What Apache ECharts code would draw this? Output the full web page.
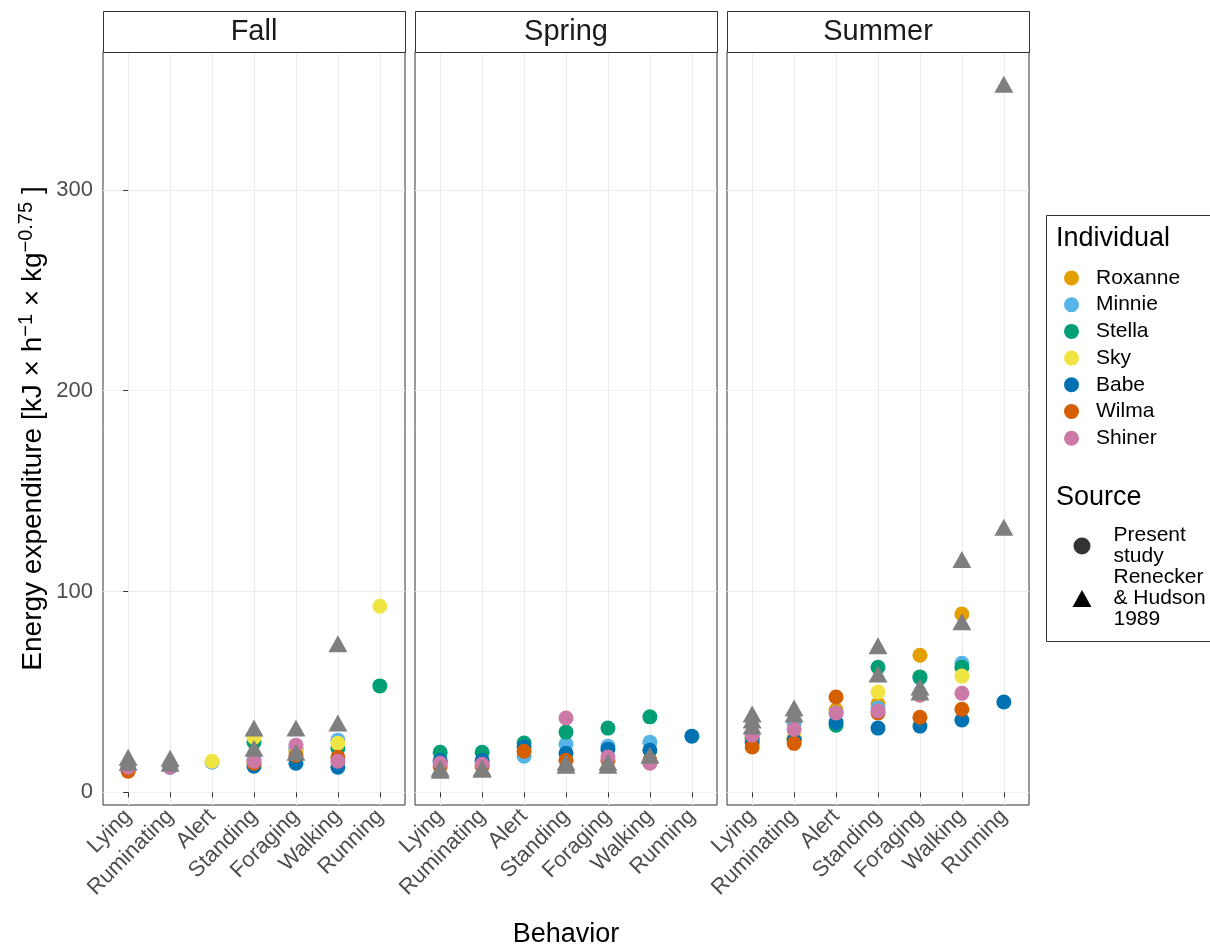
<!DOCTYPE html>
<html><head><meta charset="utf-8">
<script src="https://cdn.jsdelivr.net/npm/echarts@6/dist/echarts.min.js"></script>
<style>html,body{margin:0;padding:0;background:#fff}#c{width:1210px;height:947px}</style>
</head><body><div id="c"></div>
<script>
const categories = ['Lying','Ruminating','Alert','Standing','Foraging','Walking','Running'];
const seasons = ['Fall','Spring','Summer'];
const individuals = ['Roxanne','Minnie','Stella','Sky','Babe','Wilma','Shiner'];
const individualColors = ['#E69F00','#56B4E9','#009E73','#F0E442','#0072B2','#D55E00','#CC79A7'];
const yTickValues = [0,100,200,300];

// Present study (values per behavior, null = not measured)
const roxanneFall   = [null, null, null, null, null, null, null];
const minnieFall    = [13.5, 13.5, 15, 16.5, 22, 26, null];
const stellaFall    = [13, 13, null, 25, 21, 22, 53];
const skyFall       = [13, 13, 15.5, 27.5, 21, 24.5, 92.7];
const babeFall      = [12, 12.5, null, 13, 14.5, 12.5, null];
const wilmaFall     = [10.5, 13, null, 14.5, 18.5, 17.5, null];
const shinerFall    = [12.5, 12.5, null, 15.5, 23.5, 15.5, null];

const roxanneSpring = [null, null, null, null, null, 14.8, null];
const minnieSpring  = [15, 15, 18, 24, 23, 25, null];
const stellaSpring  = [20, 20, 24.6, 30, 32, 37.6, null];
const skySpring     = [null, null, null, null, null, null, null];
const babeSpring    = [16, 16, 22.6, 19.5, 21.5, 21, 28];
const wilmaSpring   = [13, 13, 20.5, 16, 16, 16, null];
const shinerSpring  = [14.5, 14, null, 37, 17.6, 14.5, null];

const roxanneSummer = [27, 27, 41, 44, 68.3, 88.8, null];
const minnieSummer  = [28, 34.4, 39.5, 42, 57, 64.3, null];
const stellaSummer  = [27, 27, 33.4, 62.3, 57.5, 62.3, null];
const skySummer     = [28, 28.5, null, 50, null, 57.9, null];
const babeSummer    = [25, 26, 34.8, 32, 33, 36, 45];
const wilmaSummer   = [22.6, 24.4, 47.5, 39.6, 37.4, 41.4, null];
const shinerSummer  = [28.5, 31.4, 39.5, 40.5, 48.4, 49.3, null];

// Renecker & Hudson 1989
const rhFallA   = [17.5, 17, null, 32, 32, 74, null];
const rhFallB   = [15, 14.5, null, 22, 20, 34.5, null];
const rhSpringA = [12, 12, null, 15, 15, 18.5, null];
const rhSpringB = [11, 11.5, null, 13.5, 13.5, null, null];
const rhSummerA = [39, 42, null, 73, 52.5, 116, 352.6];
const rhSummerB = [36, 39, null, 59, 50, 85, 132];
const rhSummerC = [33, null, null, null, null, null, null];

const presentTable = {
  Fall:   [roxanneFall, minnieFall, stellaFall, skyFall, babeFall, wilmaFall, shinerFall],
  Spring: [roxanneSpring, minnieSpring, stellaSpring, skySpring, babeSpring, wilmaSpring, shinerSpring],
  Summer: [roxanneSummer, minnieSummer, stellaSummer, skySummer, babeSummer, wilmaSummer, shinerSummer]
};
const rhTable = {
  Fall: [rhFallA, rhFallB],
  Spring: [rhSpringA, rhSpringB],
  Summer: [rhSummerA, rhSummerB, rhSummerC]
};

const FONT = 'Liberation Sans, Arial, sans-serif';
const gridLefts = [103, 415, 727];
const gridTop = 52, gridW = 302, gridH = 753;

function toPoints(arr) {
  const out = [];
  arr.forEach((v, k) => { if (v != null) out.push([categories.indexOf(categories[k]), v]); });
  return out;
}

const grids = [], xAxes = [], yAxes = [], series = [], graphics = [];
const catIdx = categories.map((c, i) => i);

seasons.forEach((s, si) => {
  grids.push({left: gridLefts[si], top: gridTop, width: gridW, height: gridH,
    show: true, borderColor: '#333333', borderWidth: 1, backgroundColor: '#fff', outerBoundsMode: 'none'});
  xAxes.push({
    type: 'value', gridIndex: si, min: -0.6, max: 6.6, splitNumber: 7,
    axisLine: {show: false},
    axisTick: {show: true, customValues: catIdx, length: 5, lineStyle: {color: '#333333'}},
    axisLabel: {customValues: catIdx, rotate: 45, fontSize: 22, color: '#4D4D4D', fontFamily: FONT, margin: 8,
      formatter: v => (Number.isInteger(v) && categories[v]) ? categories[v] : ''},
    splitLine: {show: true, lineStyle: {color: '#EBEBEB', width: 1}},
    name: si === 1 ? 'Behavior' : '', nameLocation: 'middle', nameGap: 116,
    nameTextStyle: {fontSize: 27, color: '#000', fontFamily: FONT}
  });
  yAxes.push({
    type: 'value', gridIndex: si, min: -6.3, max: 368.7, splitNumber: 8,
    axisLine: {show: false},
    axisTick: {show: si === 0, customValues: yTickValues, length: 5, lineStyle: {color: '#333333'}},
    axisLabel: {show: si === 0, customValues: yTickValues, fontSize: 22, color: '#4D4D4D', fontFamily: FONT, margin: 10,
      formatter: v => (v % 100 === 0 ? String(v) : '')},
    splitLine: {show: true, lineStyle: {color: ['#F2F2F2', '#EBEBEB'], width: 1}},
    name: si === 0 ? '{a|Energy expenditure [kJ × h}{s|−1}{a| × kg}{s|−0.75}{a| ]}' : '',
    nameLocation: 'middle', nameRotate: 90, nameGap: 52,
    nameTextStyle: {rich: {
      a: {fontSize: 28, color: '#000', fontFamily: FONT, lineHeight: 35},
      s: {fontSize: 20, color: '#000', fontFamily: FONT, lineHeight: 20, verticalAlign: 'top'}
    }}
  });
  presentTable[s].forEach((arr, ii) => {
    series.push({type: 'scatter', name: individuals[ii], xAxisIndex: si, yAxisIndex: si,
      symbol: 'circle', symbolSize: 15, itemStyle: {color: individualColors[ii], opacity: 1},
      data: toPoints(arr), z: 2});
  });
  rhTable[s].forEach(arr => {
    series.push({type: 'scatter', name: 'Renecker & Hudson 1989', xAxisIndex: si, yAxisIndex: si,
      symbol: 'triangle', symbolSize: [19, 17], itemStyle: {color: '#7F7F7F', opacity: 1},
      data: toPoints(arr), z: 3});
  });
  // strip
  graphics.push({type: 'rect', shape: {x: gridLefts[si] + 0.5, y: 11.5, width: gridW, height: gridTop - 11},
    style: {fill: '#fff', stroke: '#333333', lineWidth: 1}, z: 10});
  graphics.push({type: 'text', style: {text: s, x: gridLefts[si] + gridW / 2, y: 32, align: 'center', verticalAlign: 'middle',
    font: '29px ' + FONT, fill: '#1A1A1A'}, z: 11});
});

series.push({type: 'scatter', name: 'Present study', xAxisIndex: 0, yAxisIndex: 0, symbol: 'circle',
  itemStyle: {color: '#000'}, data: []});

// legend box & titles
graphics.push({type: 'rect', shape: {x: 1046.5, y: 215.5, width: 170, height: 426},
  style: {fill: 'none', stroke: '#333333', lineWidth: 1}, z: 0});
graphics.push({type: 'text', style: {text: 'Individual', x: 1056, y: 239, align: 'left', verticalAlign: 'middle',
  font: '27px ' + FONT, fill: '#000'}});
graphics.push({type: 'text', style: {text: 'Source', x: 1056, y: 498, align: 'left', verticalAlign: 'middle',
  font: '27px ' + FONT, fill: '#000'}});

const option = {
  animation: false,
  backgroundColor: '#fff',
  grid: grids, xAxis: xAxes, yAxis: yAxes, series: series,
  legend: [
    {data: individuals, orient: 'vertical', left: 1059, top: 262.5, itemWidth: 15, itemHeight: 15, itemGap: 5.7,
      icon: 'circle', selectedMode: false,
      textStyle: {fontSize: 21, lineHeight: 21, color: '#000', fontFamily: FONT, padding: [0, 0, 0, 12]}},
    {data: [{name: 'Present study', icon: 'circle', itemStyle: {color: '#000'}},
            {name: 'Renecker & Hudson 1989', icon: 'triangle', itemStyle: {color: '#000'}}],
      orient: 'vertical', left: 1067.5, top: 520, itemWidth: 19, itemHeight: 17, itemGap: 0, selectedMode: false,
      formatter: n => n === 'Present study' ? 'Present\nstudy' : 'Renecker\n& Hudson\n1989',
      textStyle: {fontSize: 21, lineHeight: 21, color: '#000', fontFamily: FONT, padding: [0, 0, 0, 17]}}
  ],
  graphic: graphics
};
const chart = echarts.init(document.getElementById('c'), null, {renderer: 'canvas'});
chart.setOption(option);
</script></body></html>
